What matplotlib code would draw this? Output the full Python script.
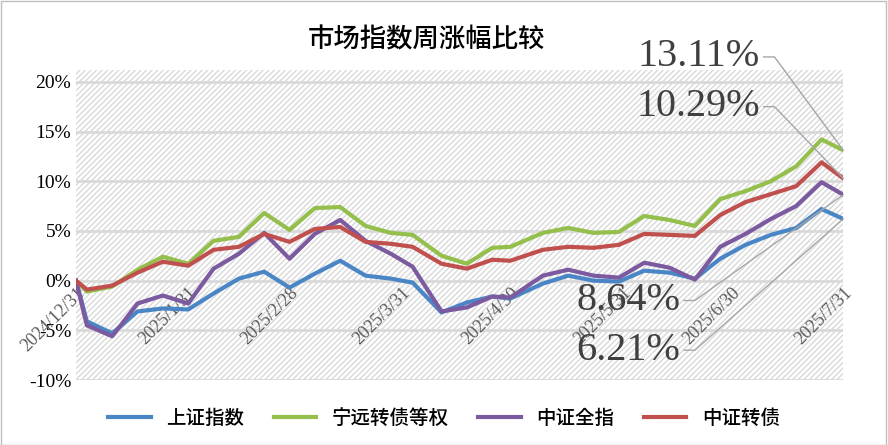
import matplotlib
matplotlib.use("Agg")
import matplotlib.pyplot as plt
from matplotlib import font_manager as fm
import pandas as pd

dates = ["2024-12-31","2025-01-03","2025-01-10","2025-01-17","2025-01-24","2025-01-31",
         "2025-02-07","2025-02-14","2025-02-21","2025-02-28","2025-03-07","2025-03-14",
         "2025-03-21","2025-03-28","2025-04-03","2025-04-11","2025-04-18","2025-04-25",
         "2025-04-30","2025-05-09","2025-05-16","2025-05-23","2025-05-30","2025-06-06",
         "2025-06-13","2025-06-20","2025-06-27","2025-07-04","2025-07-11","2025-07-18",
         "2025-07-25","2025-07-31"]
sh = [0,-4.1,-5.3,-3.1,-2.8,-2.9,-1.3,0.2,0.9,-0.7,0.7,2.0,0.5,0.2,-0.2,-3.2,-2.2,-1.6,
      -1.8,-0.3,0.5,0.0,-0.1,1.0,0.8,0.2,2.2,3.6,4.6,5.3,7.2,6.21]
ny = [0,-1.1,-0.6,1.1,2.4,1.7,4.0,4.4,6.8,5.1,7.3,7.4,5.5,4.8,4.6,2.5,1.7,3.3,
      3.4,4.8,5.3,4.8,4.9,6.5,6.1,5.5,8.2,9.0,10.0,11.5,14.2,13.11]
qz = [0,-4.5,-5.6,-2.3,-1.5,-2.3,1.2,2.7,4.8,2.2,4.7,6.1,4.0,2.7,1.4,-3.1,-2.7,-1.6,
      -1.7,0.5,1.1,0.5,0.3,1.8,1.3,0.1,3.4,4.7,6.2,7.5,9.9,8.64]
zz = [0,-0.9,-0.5,0.8,1.9,1.5,3.1,3.4,4.7,3.9,5.2,5.4,3.9,3.7,3.4,1.7,1.2,2.1,
      2.0,3.1,3.4,3.3,3.6,4.7,4.6,4.5,6.6,7.9,8.7,9.5,11.9,10.29]
tick_dates = ["2024-12-31","2025-01-31","2025-02-28","2025-03-31","2025-04-30",
              "2025-05-31","2025-06-30","2025-07-31"]
tick_labels = ["2024/12/31","2025/1/31","2025/2/28","2025/3/31","2025/4/30",
               "2025/5/31","2025/6/30","2025/7/31"]
names = ["上证指数","宁远转债等权","中证全指","中证转债"]
colors = ["#4a86c5","#94bf4c","#7b5aa0","#c0504d"]

x = pd.to_datetime(dates)
cjk_path = None
for f in fm.fontManager.ttflist:
    if "CJK" in f.name and ("SC" in f.name or cjk_path is None):
        cjk_path = f.fname
        if "SC" in f.name:
            break
cjk = fm.FontProperties(fname=cjk_path, size=19) if cjk_path else fm.FontProperties(size=19)
cjk_leg = fm.FontProperties(fname=cjk_path, size=14) if cjk_path else fm.FontProperties(size=14)
serif = "Liberation Serif"

fig = plt.figure(figsize=(8.88,4.45), dpi=100)
fig.patches.append(plt.Rectangle((0.001,0.001),0.997,0.997,transform=fig.transFigure,
                                 fill=False,edgecolor="#bfbfbf",lw=1))
ax = fig.add_axes([0.0856,0.146,0.864,0.697])
ax.add_patch(plt.Rectangle((0,0),1,1,transform=ax.transAxes,facecolor="white",
                           hatch="//////",edgecolor="#d9d9d9",lw=0,zorder=0))
for s in ax.spines.values(): s.set_visible(False)
ax.set_ylim(-10,21.2)
ax.set_xlim(x[0], x[-1])
for v in range(-10,25,5):
    ax.axhline(v,color="#d9d9d9",lw=2,zorder=1)
for series,c,n in zip([sh,ny,qz,zz],colors,names):
    ax.plot(x,series,color=c,lw=3,label=n,zorder=3)
ax.set_yticks(range(-10,25,5))
ax.set_yticklabels([f"{v}%" for v in range(-10,25,5)],fontfamily=serif,fontsize=14)
ax.tick_params(length=0)
ax.set_xticks([])
for d,l in zip(pd.to_datetime(tick_dates),tick_labels):
    ax.text(d,-0.4,l,rotation=45,ha="right",va="top",rotation_mode="anchor",
            fontfamily=serif,fontsize=13,color="#595959",zorder=2,clip_on=False)
fig.text(0.48,0.91,"市场指数周涨幅比较",fontproperties=cjk,ha="center",va="center")

ann = [(ny[-1],pd.Timestamp("2025-07-08"),22.5,"13.11%"),
       (zz[-1],pd.Timestamp("2025-07-08"),17.5,"10.29%"),
       (qz[-1],pd.Timestamp("2025-06-16"),-2.0,"8.64%"),
       (sh[-1],pd.Timestamp("2025-06-16"),-7.0,"6.21%")]
for val,tx,ty,txt in ann:
    ax.text(tx,ty,txt,fontfamily=serif,fontsize=29,color="#404040",ha="right",va="center",
            zorder=5,clip_on=False)
    x0 = tx + pd.Timedelta(days=1)
    x1 = tx + pd.Timedelta(days=4)
    ax.plot([x0,x1,x[-1]],[ty,ty,val],color="#a6a6a6",lw=1,zorder=4,clip_on=False)

fig.legend(loc="lower center",ncol=4,bbox_to_anchor=(0.5,0.0),frameon=False,
           prop=cjk_leg,handlelength=2.2,columnspacing=1.5)
fig.savefig("out.png",dpi=100)
